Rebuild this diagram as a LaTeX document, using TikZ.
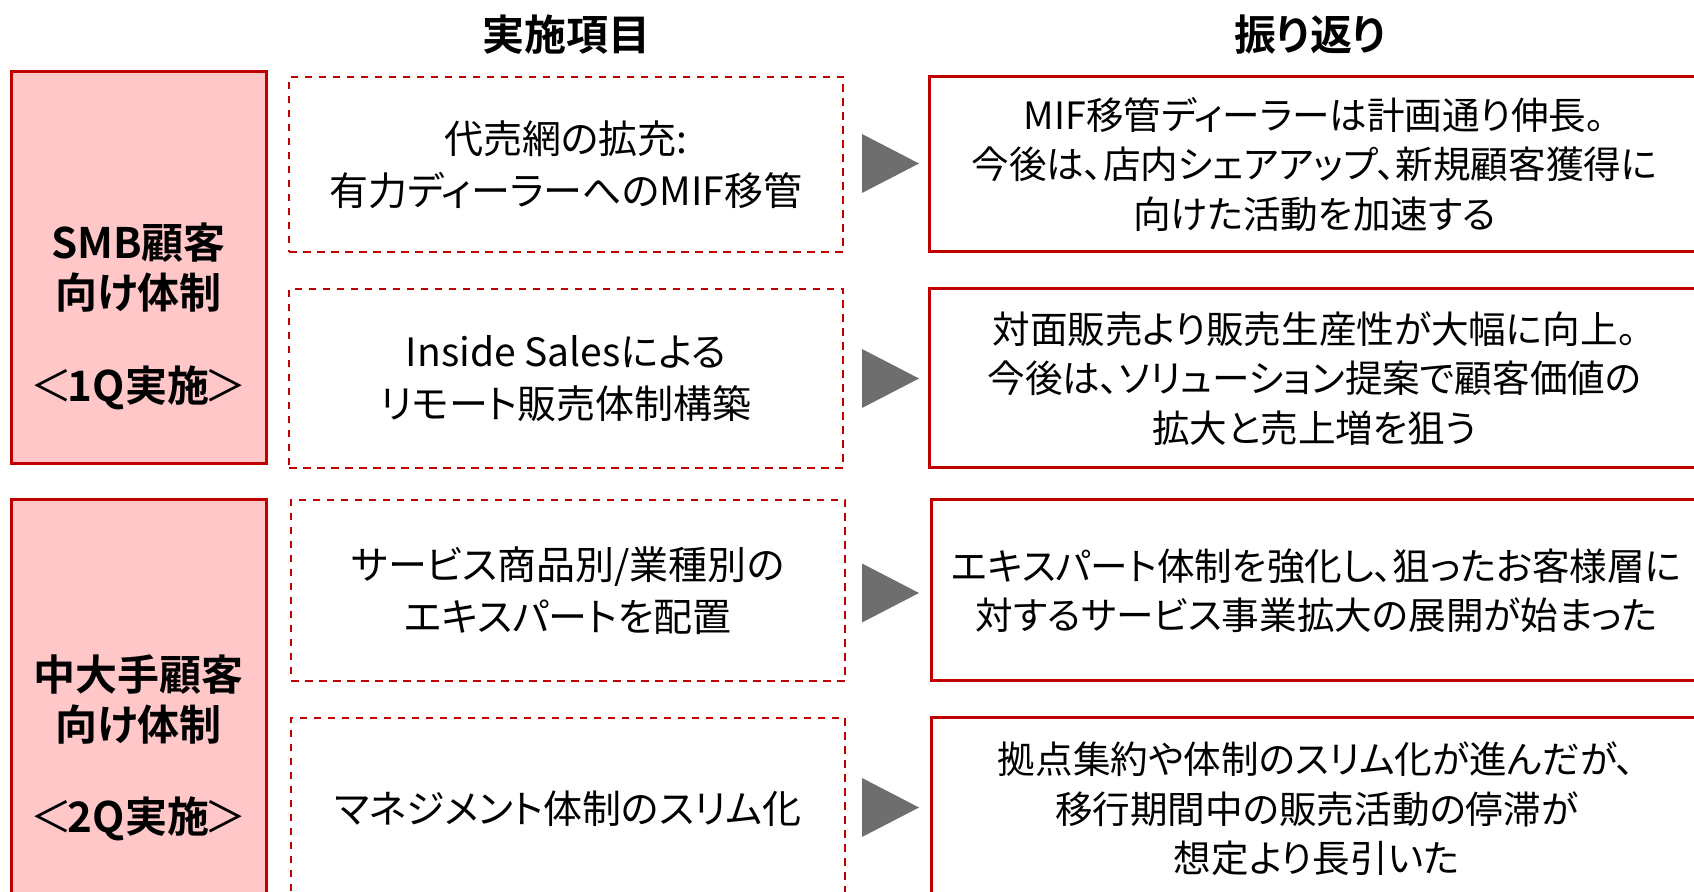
\documentclass[tikz,border=0pt]{standalone}
\usepackage{fontspec}
\setmainfont{Noto Sans CJK JP}[BoldFont={Noto Sans CJK JP Bold},RawFeature=+palt]
\usetikzlibrary{calc}
\definecolor{rd}{HTML}{C00000}
\definecolor{pk}{HTML}{FFC7C7}
\definecolor{gy}{HTML}{6E6E6E}
\newcommand\lbr{\kern-0.3em{\mdseries ＜}\kern-0.1em}
\newcommand\rbr{\kern-0.1em{\mdseries ＞}\kern-0.3em}
\tikzset{
  pinkbox/.style={draw=rd, line width=1.5pt, fill=pk, inner sep=0pt},
  dashbox/.style={draw=rd, line width=1pt, dash pattern=on 3.75pt off 3.25pt, inner sep=0pt,
    align=center, font=\fontsize{19.5pt}{26pt}\selectfont},
  resbox/.style={draw=rd, line width=1.5pt, inner sep=0pt,
    align=center, font=\fontsize{18.8pt}{24.75pt}\selectfont},
  hd/.style={font=\fontsize{21pt}{24pt}\selectfont\bfseries, inner sep=0pt},
  lbl/.style={font=\fontsize{21pt}{25pt}\selectfont\bfseries, align=center, inner sep=0pt},
  tri/.style={fill=gy}
}
\begin{document}
\begin{tikzpicture}[x=0.5pt,y=-0.5pt]
\useasboundingbox (0,0) rectangle (1694,892);
\clip (0,0) rectangle (1694,892);
% headers
\node[hd] (h1) at (566,35) {実施項目};
\node[hd] (h2) at (1310,35) {振り返り};
% left category boxes
\node[pinkbox, minimum width=127.5pt, minimum height=196pt] (p1) at (138.5,268) {};
\node[pinkbox, minimum width=127.5pt, minimum height=225pt] (p2) at (138.5,725) {};
\node[lbl] (p1t) at (138.5,316.5) {SMB顧客\\向け体制\\[21.5pt]\lbr 1Q実施\rbr};
\node[lbl] (p2t) at (138.5,747.5) {中大手顧客\\向け体制\\[21pt]\lbr 2Q実施\rbr};
% action boxes
\node[dashbox, minimum width=277pt, minimum height=87.5pt] (d1) at (566,164.5) {代売網の拡充:\\有力ディーラーへのMIF移管};
\node[dashbox, minimum width=277pt, minimum height=89.5pt] (d2) at (566,378.5) {Inside Salesによる\\リモート販売体制構築};
\node[dashbox, minimum width=277pt, minimum height=90.5pt] (d3) at (568,590.5) {サービス商品別/業種別の\\エキスパートを配置};
\node[dashbox, minimum width=277pt, minimum height=91pt] (d4) at (568,809) {マネジメント体制のスリム化};
% result boxes
\node[resbox, minimum width=385.5pt, minimum height=87.5pt] (r1) at (1314.5,164.5) {MIF移管ディーラーは計画通り伸長。\\今後は、店内シェアアップ、新規顧客獲得に\\向けた活動を加速する};
\node[resbox, minimum width=385.5pt, minimum height=89.5pt] (r2) at (1314.5,378.5) {対面販売より販売生産性が大幅に向上。\\今後は、ソリューション提案で顧客価値の\\拡大と売上増を狙う};
\node[resbox, minimum width=385.5pt, minimum height=90.5pt] (r3) at (1316.5,590.5) {エキスパート体制を強化し、狙ったお客様層に\\対するサービス事業拡大の展開が始まった};
\node[resbox, minimum width=385.5pt, minimum height=91pt] (r4) at (1316.5,809) {拠点集約や体制のスリム化が進んだが、\\移行期間中の販売活動の停滞が\\想定より長引いた};
% arrow triangles
\fill[tri] (862,134) -- (919,163.5) -- (862,193) -- cycle;
\fill[tri] (862,349) -- (919,378.5) -- (862,408) -- cycle;
\fill[tri] (862,563.5) -- (919,593) -- (862,622.5) -- cycle;
\fill[tri] (862,778) -- (919,807.5) -- (862,837) -- cycle;
\end{tikzpicture}
\end{document}
